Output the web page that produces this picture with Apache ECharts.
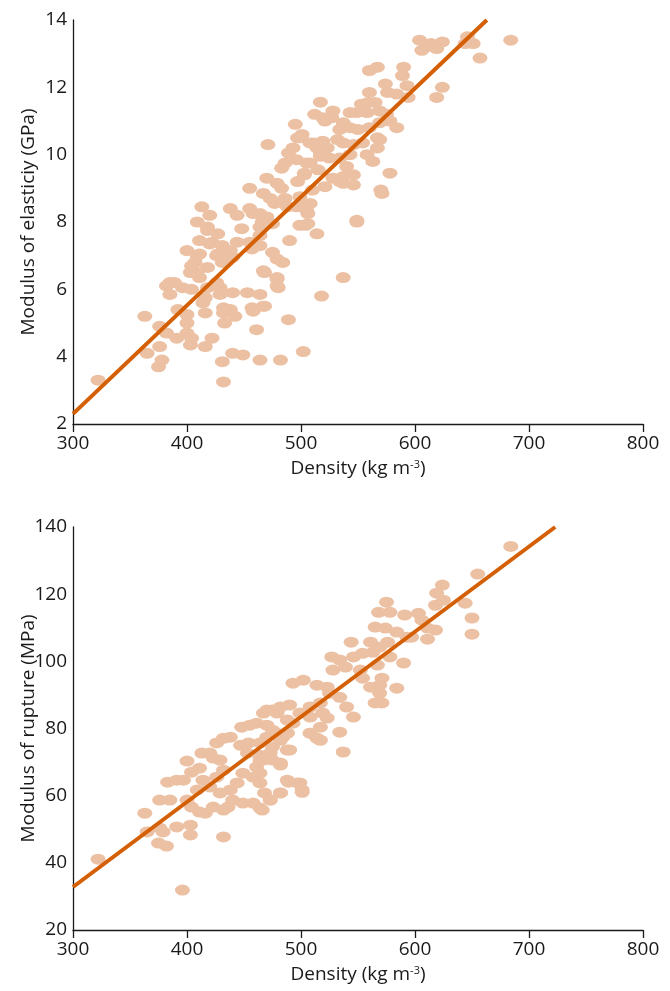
<!DOCTYPE html>
<html>
<head>
<meta charset="utf-8">
<script src="https://cdn.jsdelivr.net/npm/echarts@6/dist/echarts.min.js"></script>
<style>
html,body{margin:0;padding:0;background:#fff;}
#chart{width:670px;height:991px;}
</style>
</head>
<body>
<div id="chart"></div>
<script>
// Top panel: density (kg m-3) vs modulus of elasticity (GPa)
const moeDensity = [322,363,365,376,378,375,432,431,440,449,464,482,502,489,461,467,458,518,537,479,479,468,484,479,475,490,514,549,504,499,464,475,448,444,464,457,427,418,411,422,400,409,407,426,435,440,403,411,385,389,382,385,396,404,418,426,429,416,414,416,429,440,453,464,432,438,442,433,432,392,400,400,376,382,391,400,404,403,422,416,
517,512,519,495,497,501,471,493,489,486,483,496,505,503,497,511,519,517,470,479,483,455,467,473,477,486,488,496,503,506,464,470,466,455,458,455,464,438,444,413,420,409,418,420,431,438,411,427,436,404,409,418,431,467,479,480,457,468,
604,610,624,606,619,614,646,651,644,657,624,619,684,560,567,590,589,574,576,584,593,594,560,559,553,565,528,527,521,543,549,558,569,575,537,543,534,550,560,569,578,567,584,569,567,558,563,499,508,514,523,532,537,546,554,517,525,534,543,508,503,515,540,546,537,528,521,510,546,537,534,578,570,571,499,508,505,549,506];
const moeValues = [3.3,5.2,4.1,4.3,3.9,3.7,3.25,3.85,4.1,4.05,3.9,3.9,4.15,5.1,4.8,5.5,5.35,5.8,6.35,6.1,6.3,6.5,6.8,6.9,7.1,7.45,7.65,8.0,7.9,7.9,7.85,7.95,7.8,7.4,7.6,7.2,7.65,7.75,7.45,7.4,7.15,7.0,6.8,7.0,7.1,6.95,6.5,6.35,6.2,6.2,6.1,5.85,6.05,6.0,6.05,6.2,6.05,5.75,5.6,5.3,5.85,5.9,5.9,5.85,5.45,5.4,5.2,5.0,5.3,5.4,5.25,5.0,4.9,4.7,4.55,4.7,4.55,4.35,4.55,4.3,
11.56,11.2,11.1,10.9,10.5,10.6,10.3,10.2,10.05,9.75,9.6,9.85,9.75,9.4,9.2,10.35,10.4,9.95,9.3,9.15,9.0,9.0,8.85,8.7,8.55,8.7,8.45,8.45,8.45,8.25,8.25,8.15,8.0,8.4,8.25,7.4,7.3,8.4,8.2,8.45,8.2,8.0,7.85,7.35,7.3,7.15,7.05,7.05,6.95,6.7,6.5,6.65,6.8,6.55,6.35,6.05,5.45,5.5,
13.4,13.2,13.35,13.1,13.15,13.3,13.5,13.3,13.3,12.87,12.0,11.7,13.4,12.5,12.6,12.6,12.35,12.1,11.85,11.8,12.05,11.7,11.85,11.55,11.5,11.55,11.3,11.1,11.0,11.25,11.25,11.25,11.3,11.2,10.95,10.8,10.75,10.75,10.8,10.95,11.0,10.5,10.8,10.45,10.2,10.0,9.8,10.5,10.35,10.2,10.2,10.45,10.35,10.3,10.35,10.05,9.9,9.9,10.0,9.75,9.45,9.55,9.65,9.4,9.35,9.3,9.05,8.95,9.1,9.15,9.2,9.45,8.95,8.85,8.75,8.55,8.35,8.05,7.95];
const moeFitX = [300, 663];
const moeFitY = [2.3, 14];

// Bottom panel: density (kg m-3) vs modulus of rupture (MPa)
const morDensity = [322,396,363,365,375,382,376,385,383,391,376,379,391,403,403,432,400,397,404,411,414,409,400,404,411,416,423,432,436,413,420,426,432,438,447,454,448,455,423,429,432,426,420,429,438,444,440,449,458,464,449,458,461,464,468,473,482,488,497,501,453,464,467,475,482,488,475,470,479,484,464,467,475,482,490,499,508,508,514,493,488,470,461,
684,655,624,619,618,625,644,650,650,575,568,578,591,603,606,565,574,584,593,597,611,618,611,544,561,569,576,527,534,546,554,563,578,590,528,539,552,567,571,569,561,554,584,569,565,571,540,546,534,537,493,502,514,523,525,517,508,519,523,517,508,517,534,470,479,488,475,488,482,490,473,482,464,464,489,499,501,482,473,466];
const morValues = [41.1,31.9,54.8,49.2,45.9,45.0,58.7,58.7,64.0,64.6,50.4,49.2,50.7,51.2,48.3,47.7,70.3,64.6,67.0,68.2,64.6,61.7,58.7,56.6,55.1,54.8,56.6,55.7,56.6,72.7,72.7,75.7,77.1,77.4,75.0,75.7,80.4,81.0,71.2,70.6,67.6,65.5,62.6,60.8,61.7,63.8,58.7,57.8,57.8,56.3,66.7,65.5,68.5,63.8,60.8,58.7,60.8,64.6,63.8,61.7,72.7,72.0,70.6,70.6,69.1,73.6,74.5,77.4,78.6,77.4,75.7,84.6,85.5,86.4,87.0,84.6,83.4,78.6,77.1,81.6,78.6,81.0,81.6,
134.2,126.0,122.7,120.3,116.7,118.2,117.3,112.9,108.1,117.6,114.6,114.6,113.8,114.3,112.3,110.2,109.9,108.7,107.2,107.2,109.9,109.3,106.6,105.7,105.7,104.2,105.7,101.3,100.4,101.3,102.4,102.7,101.3,99.5,97.4,98.3,97.4,98.9,95.0,92.9,92.3,95.0,92.0,90.5,87.6,87.6,86.4,83.4,78.9,73.0,93.5,94.4,92.9,92.3,90.5,87.6,86.4,84.6,83.1,80.4,78.6,76.5,89.3,85.5,84.6,82.5,79.5,78.6,76.5,73.6,72.7,69.7,70.6,66.7,64.0,63.8,61.0,60.8,58.7,55.7];
const morFitX = [300, 723];
const morFitY = [32.8, 140];

function pairs(xs, ys) { return xs.map((x, i) => [x, ys[i]]); }

const FONT = '"Open Sans", "Noto Sans", sans-serif';
const TXT = '#1a1a1a';
const PT = '#ECC0A3';
const FIT = '#D45F05';

function xAxisCfg(gridIndex) {
  return {
    type: 'value', gridIndex, min: 300, max: 800, interval: 100,
    name: 'Density (kg m{sup|-3})', nameLocation: 'middle', nameGap: 35, nameMoveOverlap: false,
    nameTextStyle: { color: TXT, fontSize: 19, fontFamily: FONT,
      rich: { sup: { fontSize: 11, verticalAlign: 'top', padding: [0, 0, 9, 0], color: TXT, fontFamily: FONT } } },
    axisLine: { show: true, onZero: false, lineStyle: { color: TXT, width: 1.3 } },
    axisTick: { show: true, inside: false, length: 8, lineStyle: { color: TXT, width: 1.3 } },
    axisLabel: { color: TXT, fontSize: 19, fontFamily: FONT, margin: 10 },
    splitLine: { show: false }
  };
}
function yAxisCfg(gridIndex, min, max, interval, name) {
  return {
    type: 'value', gridIndex, min, max, interval,
    name, nameLocation: 'middle', nameGap: 35, nameMoveOverlap: false,
    nameTextStyle: { color: TXT, fontSize: 19, fontFamily: FONT },
    axisLine: { show: true, onZero: false, lineStyle: { color: TXT, width: 1.3 } },
    axisTick: { show: false },
    axisLabel: { color: TXT, fontSize: 19, fontFamily: FONT, margin: 6 },
    splitLine: { show: false }
  };
}

const chart = echarts.init(document.getElementById('chart'), null, { renderer: 'canvas' });
chart.setOption({
  animation: false,
  backgroundColor: '#fff',
  grid: [
    { left: 73, top: 20, width: 570, height: 404 },
    { left: 73, top: 527, width: 570, height: 403 }
  ],
  xAxis: [xAxisCfg(0), xAxisCfg(1)],
  yAxis: [
    yAxisCfg(0, 2, 14, 2, 'Modulus of elasticiy (GPa)'),
    yAxisCfg(1, 20, 140, 20, 'Modulus of rupture (MPa)')
  ],
  series: [
    { type: 'scatter', xAxisIndex: 0, yAxisIndex: 0, data: pairs(moeDensity, moeValues),
      symbol: 'circle', symbolSize: [15, 11], itemStyle: { color: PT, opacity: 1 }, z: 2 },
    { type: 'line', xAxisIndex: 0, yAxisIndex: 0, data: pairs(moeFitX, moeFitY),
      symbol: 'none', lineStyle: { color: FIT, width: 4 }, z: 3 },
    { type: 'scatter', xAxisIndex: 1, yAxisIndex: 1, data: pairs(morDensity, morValues),
      symbol: 'circle', symbolSize: [15, 11], itemStyle: { color: PT, opacity: 1 }, z: 2 },
    { type: 'line', xAxisIndex: 1, yAxisIndex: 1, data: pairs(morFitX, morFitY),
      symbol: 'none', lineStyle: { color: FIT, width: 4 }, z: 3 }
  ]
});
</script>
</body>
</html>
